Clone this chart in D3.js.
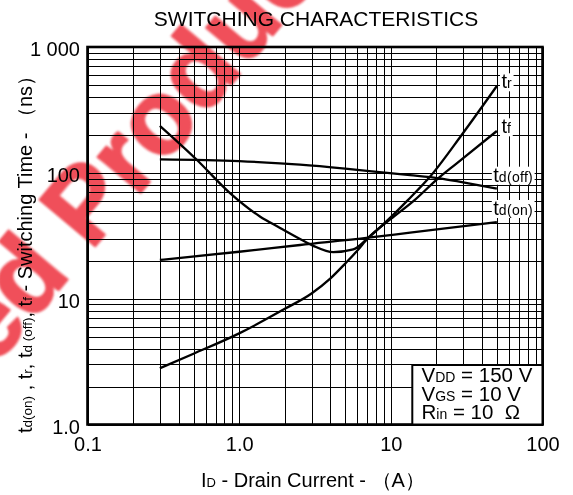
<!DOCTYPE html>
<html><head><meta charset="utf-8">
<script src="https://cdn.jsdelivr.net/npm/d3@7"></script>
<style>
html,body{margin:0;padding:0;background:#fff;}
svg{display:block;font-family:"Liberation Sans",Arial,sans-serif;}
</style></head><body>
<svg id="c" width="573" height="495"></svg>
<script>
// ---- data ----
const xTickValues = [0.1, 1, 10, 100];
const xTickLabels = ["0.1", "1.0", "10", "100"];
const yTickValues = [1, 10, 100, 1000];
const yTickLabels = ["1.0", "10", "100", "1 000"];

const trCurrent = [0.3, 0.525, 0.87, 1.37, 1.86, 2.52, 3.08, 4.17, 5.65, 7.1, 13, 18.1, 29.3, 50];
const trTime    = [236, 127, 69, 45, 36.5, 29.8, 26.3, 23.4, 24.6, 30.5, 61, 93, 200, 490];

const tfCurrent = [0.3, 0.5, 1, 2, 3, 4, 5, 6, 7.1, 10, 14.4, 20, 27.2, 50];
const tfTime    = [2.8, 3.65, 5.3, 8.3, 11, 14.5, 19, 24, 30.5, 43, 61, 88, 119, 215];

const tdoffCurrent = [0.3, 1, 1.86, 2.52, 5, 9.86, 13.4, 21, 30, 50];
const tdoffTime    = [128, 124, 119, 116, 108, 99.5, 96, 90.5, 84, 75];

const tdonCurrent = [0.3, 1, 2.52, 7.1, 13.4, 50];
const tdonTime    = [20.3, 23.6, 26.7, 30.5, 33.5, 40.5];

const seriesNames = ["tr", "tf", "td(off)", "td(on)"];

// ---- layout ----
const L = 87.5, R = 542.5, T = 47, B = 424.5;
const svg = d3.select("#c");
const x = d3.scaleLog().domain([0.1, 100]).range([L, R]);
const y = d3.scaleLog().domain([1, 1000]).range([B, T]);

// grid
const gx = svg.append("g").attr("transform", `translate(0,${B})`)
  .call(d3.axisBottom(x).tickValues(x.ticks()).tickSize(-(B - T)).tickFormat(""));
gx.select(".domain").remove();
gx.selectAll("line").attr("stroke", "#000").attr("stroke-width", 1).attr("shape-rendering", "crispEdges");
const gy = svg.append("g").attr("transform", `translate(${L},0)`)
  .call(d3.axisLeft(y).tickValues(y.ticks()).tickSize(-(R - L)).tickFormat(""));
gy.select(".domain").remove();
gy.selectAll("line").attr("stroke", "#000").attr("stroke-width", 1).attr("shape-rendering", "crispEdges");

// curves
const line = d3.line().x(d => x(d[0])).y(d => y(d[1])).curve(d3.curveMonotoneX);
const zip = (a, b) => a.map((v, i) => [v, b[i]]);
[zip(trCurrent, trTime), zip(tfCurrent, tfTime), zip(tdoffCurrent, tdoffTime), zip(tdonCurrent, tdonTime)]
  .forEach(s => svg.append("path").attr("d", line(s)).attr("fill", "none")
    .attr("stroke", "#000").attr("stroke-width", 2.3).attr("stroke-linejoin", "round"));

// curve labels with white background
function label(px, py, main, sub) {
  const g = svg.append("g");
  const t = g.append("text").attr("x", px).attr("y", py).attr("font-size", 20).attr("fill", "#000");
  t.append("tspan").text(main);
  t.append("tspan").attr("font-size", 14).attr("letter-spacing", 0.3).text(sub);
  const bb = t.node().getBBox();
  g.insert("rect", "text").attr("x", bb.x - 1.5).attr("y", py - 15).attr("width", bb.width + 3)
    .attr("height", 18).attr("fill", "#fff");
}
label(501.5, 88.3, "t", "r");
label(501.5, 133.3, "t", "f");
label(493.3, 181.7, "t", "d(off)");
label(493.3, 215, "t", "d(on)");

// frame
svg.append("rect").attr("x", L).attr("y", T).attr("width", R - L).attr("height", B - T)
  .attr("fill", "none").attr("stroke", "#000").attr("stroke-width", 2.6);

// conditions box
svg.append("rect").attr("x", 412.3).attr("y", 365).attr("width", R - 412.3).attr("height", B - 365)
  .attr("fill", "#fff").attr("stroke", "#000").attr("stroke-width", 2);
const cond = [["V", "DD", " = 150 V"], ["V", "GS", " = 10 V"], ["R", "in", " = 10\u00a0\u00a0Ω"]];
cond.forEach((c, i) => {
  const t = svg.append("text").attr("x", 421.5).attr("y", 381.7 + i * 18.8).attr("font-size", 20.5).attr("fill", "#000");
  t.append("tspan").text(c[0]);
  t.append("tspan").attr("font-size", 14).text(c[1]);
  t.append("tspan").text(c[2]);
});

// axes labels
const ax = svg.append("g").attr("transform", `translate(0,${B})`)
  .call(d3.axisBottom(x).tickValues(xTickValues).tickFormat((d, i) => xTickLabels[i]).tickSize(0));
ax.select(".domain").remove();
ax.attr("font-family", null).attr("font-size", null);
ax.selectAll("text").attr("dy", null).attr("y", 26.2).attr("font-size", 20).attr("fill", "#000");

const ay = svg.append("g").attr("transform", `translate(${L},0)`)
  .call(d3.axisLeft(y).tickValues(yTickValues).tickFormat((d, i) => yTickLabels[i]).tickSize(0));
ay.select(".domain").remove();
ay.attr("font-family", null).attr("font-size", null);
ay.selectAll("text").attr("x", -7.5).attr("dy", null).attr("y", 8.5).attr("font-size", 20).attr("fill", "#000");

// title
svg.append("text").attr("x", 316).attr("y", 26).attr("text-anchor", "middle")
  .attr("font-size", 21).attr("fill", "#000").text("SWITCHING CHARACTERISTICS");

// x title
const xt = svg.append("text").attr("x", 201).attr("y", 486.5).attr("font-size", 20).attr("fill", "#000");
xt.append("tspan").text("I");
xt.append("tspan").attr("font-size", 13).text("D");
xt.append("tspan").text(" - Drain Current - （A）");

// y title
const yt = svg.append("text").attr("transform", "translate(32,433) rotate(-90)").attr("font-size", 20).attr("fill", "#000");
[["t", 0], ["d(on)", 1], [" , t", 0], ["r", 1], [", t", 0], ["d (off)", 1], [", t", 0], ["f", 1], [" - Switching Time - （ns）", 0]]
  .forEach(p => yt.append("tspan").attr("font-size", p[1] ? 13.5 : 20).text(p[0]));

// watermark
const defs = svg.append("defs");
defs.append("filter").attr("id", "soft").append("feGaussianBlur").attr("stdDeviation", 0.8);
const wmColor = "rgb(240,80,90)";
const wm = svg.append("g").attr("transform", "translate(91,252) rotate(-50)")
  .attr("filter", "url(#soft)").style("mix-blend-mode", "multiply");
wm.append("text").attr("x", -29).attr("y", 0).attr("text-anchor", "end").attr("font-size", 105)
  .attr("font-weight", "bold").attr("fill", wmColor).attr("stroke", wmColor).attr("stroke-width", 2)
  .attr("stroke-linejoin", "round").text("Discontinued");
wm.append("text").attr("x", 0).attr("y", 0).attr("font-size", 105)
  .attr("font-weight", "bold").attr("fill", wmColor).attr("stroke", wmColor).attr("stroke-width", 2)
  .attr("stroke-linejoin", "round").text("Product");
</script>
</body></html>
